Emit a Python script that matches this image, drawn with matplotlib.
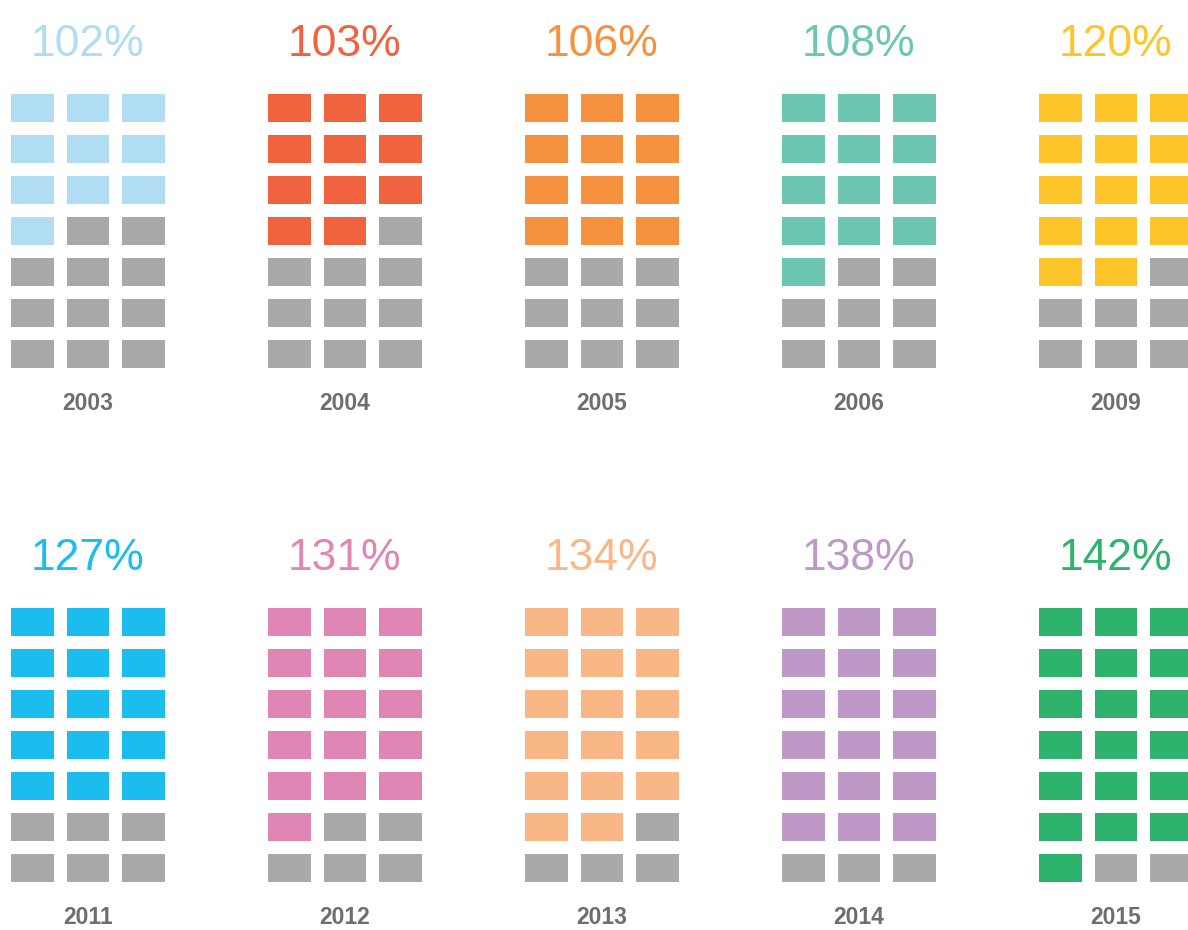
import matplotlib.pyplot as plt
from matplotlib.patches import Rectangle

# data
years = ["2003", "2004", "2005", "2006", "2009", "2011", "2012", "2013", "2014", "2015"]
percent = [102, 103, 106, 108, 120, 127, 131, 134, 138, 142]
filled = [10, 11, 12, 13, 14, 15, 16, 17, 18, 19]
colors = ["#b0dcf4", "#f1623e", "#f6923f", "#6cc6b2", "#fec52a",
          "#1bbcee", "#df86b5", "#f9b788", "#be99c8", "#2db36c"]

empty_color = "#a7a9aa"
label_color = "#6d6e70"
n_cols, n_rows = 3, 7

# layout in pixels
W, H = 1188, 930
x0, panel_dx = 11, 257
y0, panel_dy = 94, 514
cell_w, cell_h = 42.5, 28
col_dx, row_dy = 55.5, 41

fig = plt.figure(figsize=(W / 100, H / 100), dpi=100)
ax = fig.add_axes([0, 0, 1, 1])
ax.set_xlim(0, W)
ax.set_ylim(H, 0)
ax.axis("off")

for i, year in enumerate(years):
    px = x0 + (i % 5) * panel_dx
    py = y0 + (i // 5) * panel_dy
    for k in range(n_cols * n_rows):
        r, c = divmod(k, n_cols)
        col = colors[i] if k < filled[i] else empty_color
        ax.add_patch(Rectangle((px + c * col_dx, py + r * row_dy), cell_w, cell_h,
                               facecolor=col, edgecolor="none"))
    cx = px + ((n_cols - 1) * col_dx + cell_w) / 2
    ax.text(cx, py - 50, f"{percent[i]}%", ha="center", va="center",
            fontsize=32, color=colors[i],
            family=["Liberation Sans", "DejaVu Sans"])
    ax.text(cx, py + (n_rows - 1) * row_dy + cell_h + 35, year, ha="center",
            va="center", fontsize=16.5, fontweight="bold", color=label_color,
            family=["Liberation Sans", "DejaVu Sans"])

fig.savefig("out.png", dpi=100, facecolor="white")
